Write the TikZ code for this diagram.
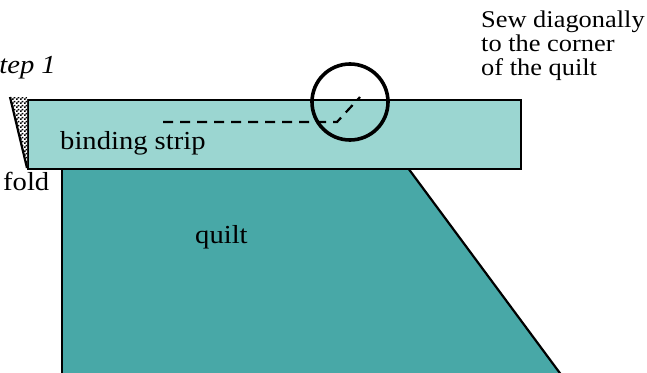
\documentclass[tikz,border=0pt]{standalone}
\usepackage{fontspec}
\setmainfont[FakeStretch=1.1]{Liberation Serif}
\usetikzlibrary{patterns}
\definecolor{stripc}{RGB}{155,214,209}
\definecolor{quiltc}{RGB}{72,168,167}
\pgfdeclarepatternformonly{finecheck}{\pgfpointorigin}{\pgfpoint{4pt}{4pt}}{\pgfpoint{4pt}{4pt}}{%
  \pgfpathrectangle{\pgfpointorigin}{\pgfpoint{2pt}{2pt}}%
  \pgfpathrectangle{\pgfpoint{2pt}{2pt}}{\pgfpoint{2pt}{2pt}}%
  \pgfusepath{fill}}
\tikzset{
  lbl/.style={inner sep=0pt, anchor=base west, font=\fontsize{26}{26}\selectfont},
  edge/.style={line width=2.2pt, line join=miter},
}
\begin{document}
\begin{tikzpicture}[x=1pt,y=-1pt]
\useasboundingbox (0,0) rectangle (647,372);
\begin{scope}
\clip (0,0) rectangle (647,372);
% quilt
\fill[quiltc] (62,168) -- (408,168) -- (565,380) -- (62,380) -- cycle;
\draw[edge] (62,380) -- (62,168);
\draw[edge] (408,168) -- (565,380);
% binding strip
\node[draw, fill=stripc, line width=2.2pt, minimum width=493pt, minimum height=69pt, inner sep=0pt, anchor=north west] (strip) at (27,99) {};
% fold
\fill[white] (10,97) -- (27,97) -- (27,168) -- cycle;
\fill[pattern=finecheck] (10,97) -- (27,97) -- (27,168) -- cycle;
\draw[line width=2.2pt] (10,97) -- (27,168);
% dashed seam
\coordinate (d1) at (163,122);
\coordinate (d2) at (337,122);
\coordinate (d3) at (360,97);
\draw[line width=2.2pt, dash pattern=on 10pt off 7pt] (d1) -- (d2) -- (d3);
% circle
\node[draw, circle, line width=3.6pt, minimum size=76pt, inner sep=0pt] (circ) at (350,102) {};
% labels
\node[lbl] (binding) at (60,149) {binding strip};
\node[lbl] (quilt) at (195,243) {quilt};
\node[lbl] (fold) at (3,190) {fold};
\node[lbl, anchor=base east, font=\fontsize{26}{26}\selectfont\itshape] (step) at (56,73) {Step 1};
\node[inner sep=0pt, anchor=north west, align=left, font=\fontsize{24}{24}\selectfont] (note) at (481,11) {Sew diagonally\\to the corner\\of the quilt};
\end{scope}
\end{tikzpicture}
\end{document}
